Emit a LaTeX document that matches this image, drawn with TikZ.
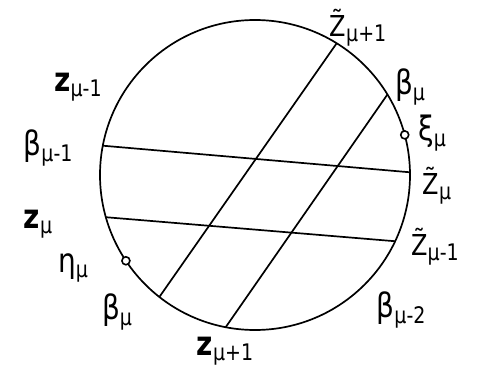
\documentclass[tikz,border=0pt]{standalone}
\usepackage{fontspec}
\setmainfont{DejaVu Sans}
\newcommand\lab[2]{\scalebox{1}[1.2]{#1{\fontsize{19}{19}\selectfont\raisebox{-0.45ex}{#2}}}}
\begin{document}
\begin{tikzpicture}[x=1pt,y=1pt,line width=1.7pt,
  lbl/.style={inner sep=0pt,font=\fontsize{28}{28}\selectfont},
  tlbl/.style={inner sep=0pt,font=\fontsize{24}{24}\selectfont},
  dot/.style={circle,draw,line width=1.6pt,inner sep=0pt,minimum size=8pt,fill=white}]
\useasboundingbox (0,0) rectangle (478,378);
\coordinate (O) at (255,203);
\draw (O) circle (155);
\path (O) ++(169.1:155) coordinate (A1);
\path (O) ++(1:155) coordinate (A2);
\path (O) ++(195.8:155) coordinate (B1);
\path (O) ++(-25.3:155) coordinate (B2);
\path (O) ++(58.2:155) coordinate (C1);
\path (O) ++(231.9:155) coordinate (C2);
\path (O) ++(31.3:155) coordinate (D1);
\path (O) ++(259.1:155) coordinate (D2);
\draw (A1) -- (A2);
\draw (B1) -- (B2);
\draw (C1) -- (C2);
\draw (D1) -- (D2);
\path (O) ++(15:155) node[dot] (xi) {};
\path (O) ++(213.6:155) node[dot] (eta) {};
\node[tlbl] (l1) at (358,350) {\lab{\~{Z}}{μ+1}};
\node[lbl] (l2) at (410,291) {\lab{β}{μ}};
\node[lbl] (l3) at (432,245) {\lab{ξ}{μ}};
\node[tlbl] (l4) at (437,192) {\lab{\~{Z}}{μ}};
\node[tlbl] (l5) at (435,131) {\lab{\~{Z}}{μ-1}};
\node[lbl] (l6) at (401,68) {\lab{β}{μ-2}};
\node[lbl] (l7) at (225,27) {\lab{\textbf{z}}{μ+1}};
\node[lbl] (l8) at (117,66) {\lab{β}{μ}};
\node[lbl] (l9) at (73,110) {\lab{η}{μ}};
\node[lbl] (l10) at (38,154) {\lab{\textbf{z}}{μ}};
\node[lbl] (l11) at (48,230) {\lab{β}{μ-1}};
\node[lbl] (l12) at (78,291) {\lab{\textbf{z}}{μ-1}};
\end{tikzpicture}
\end{document}
